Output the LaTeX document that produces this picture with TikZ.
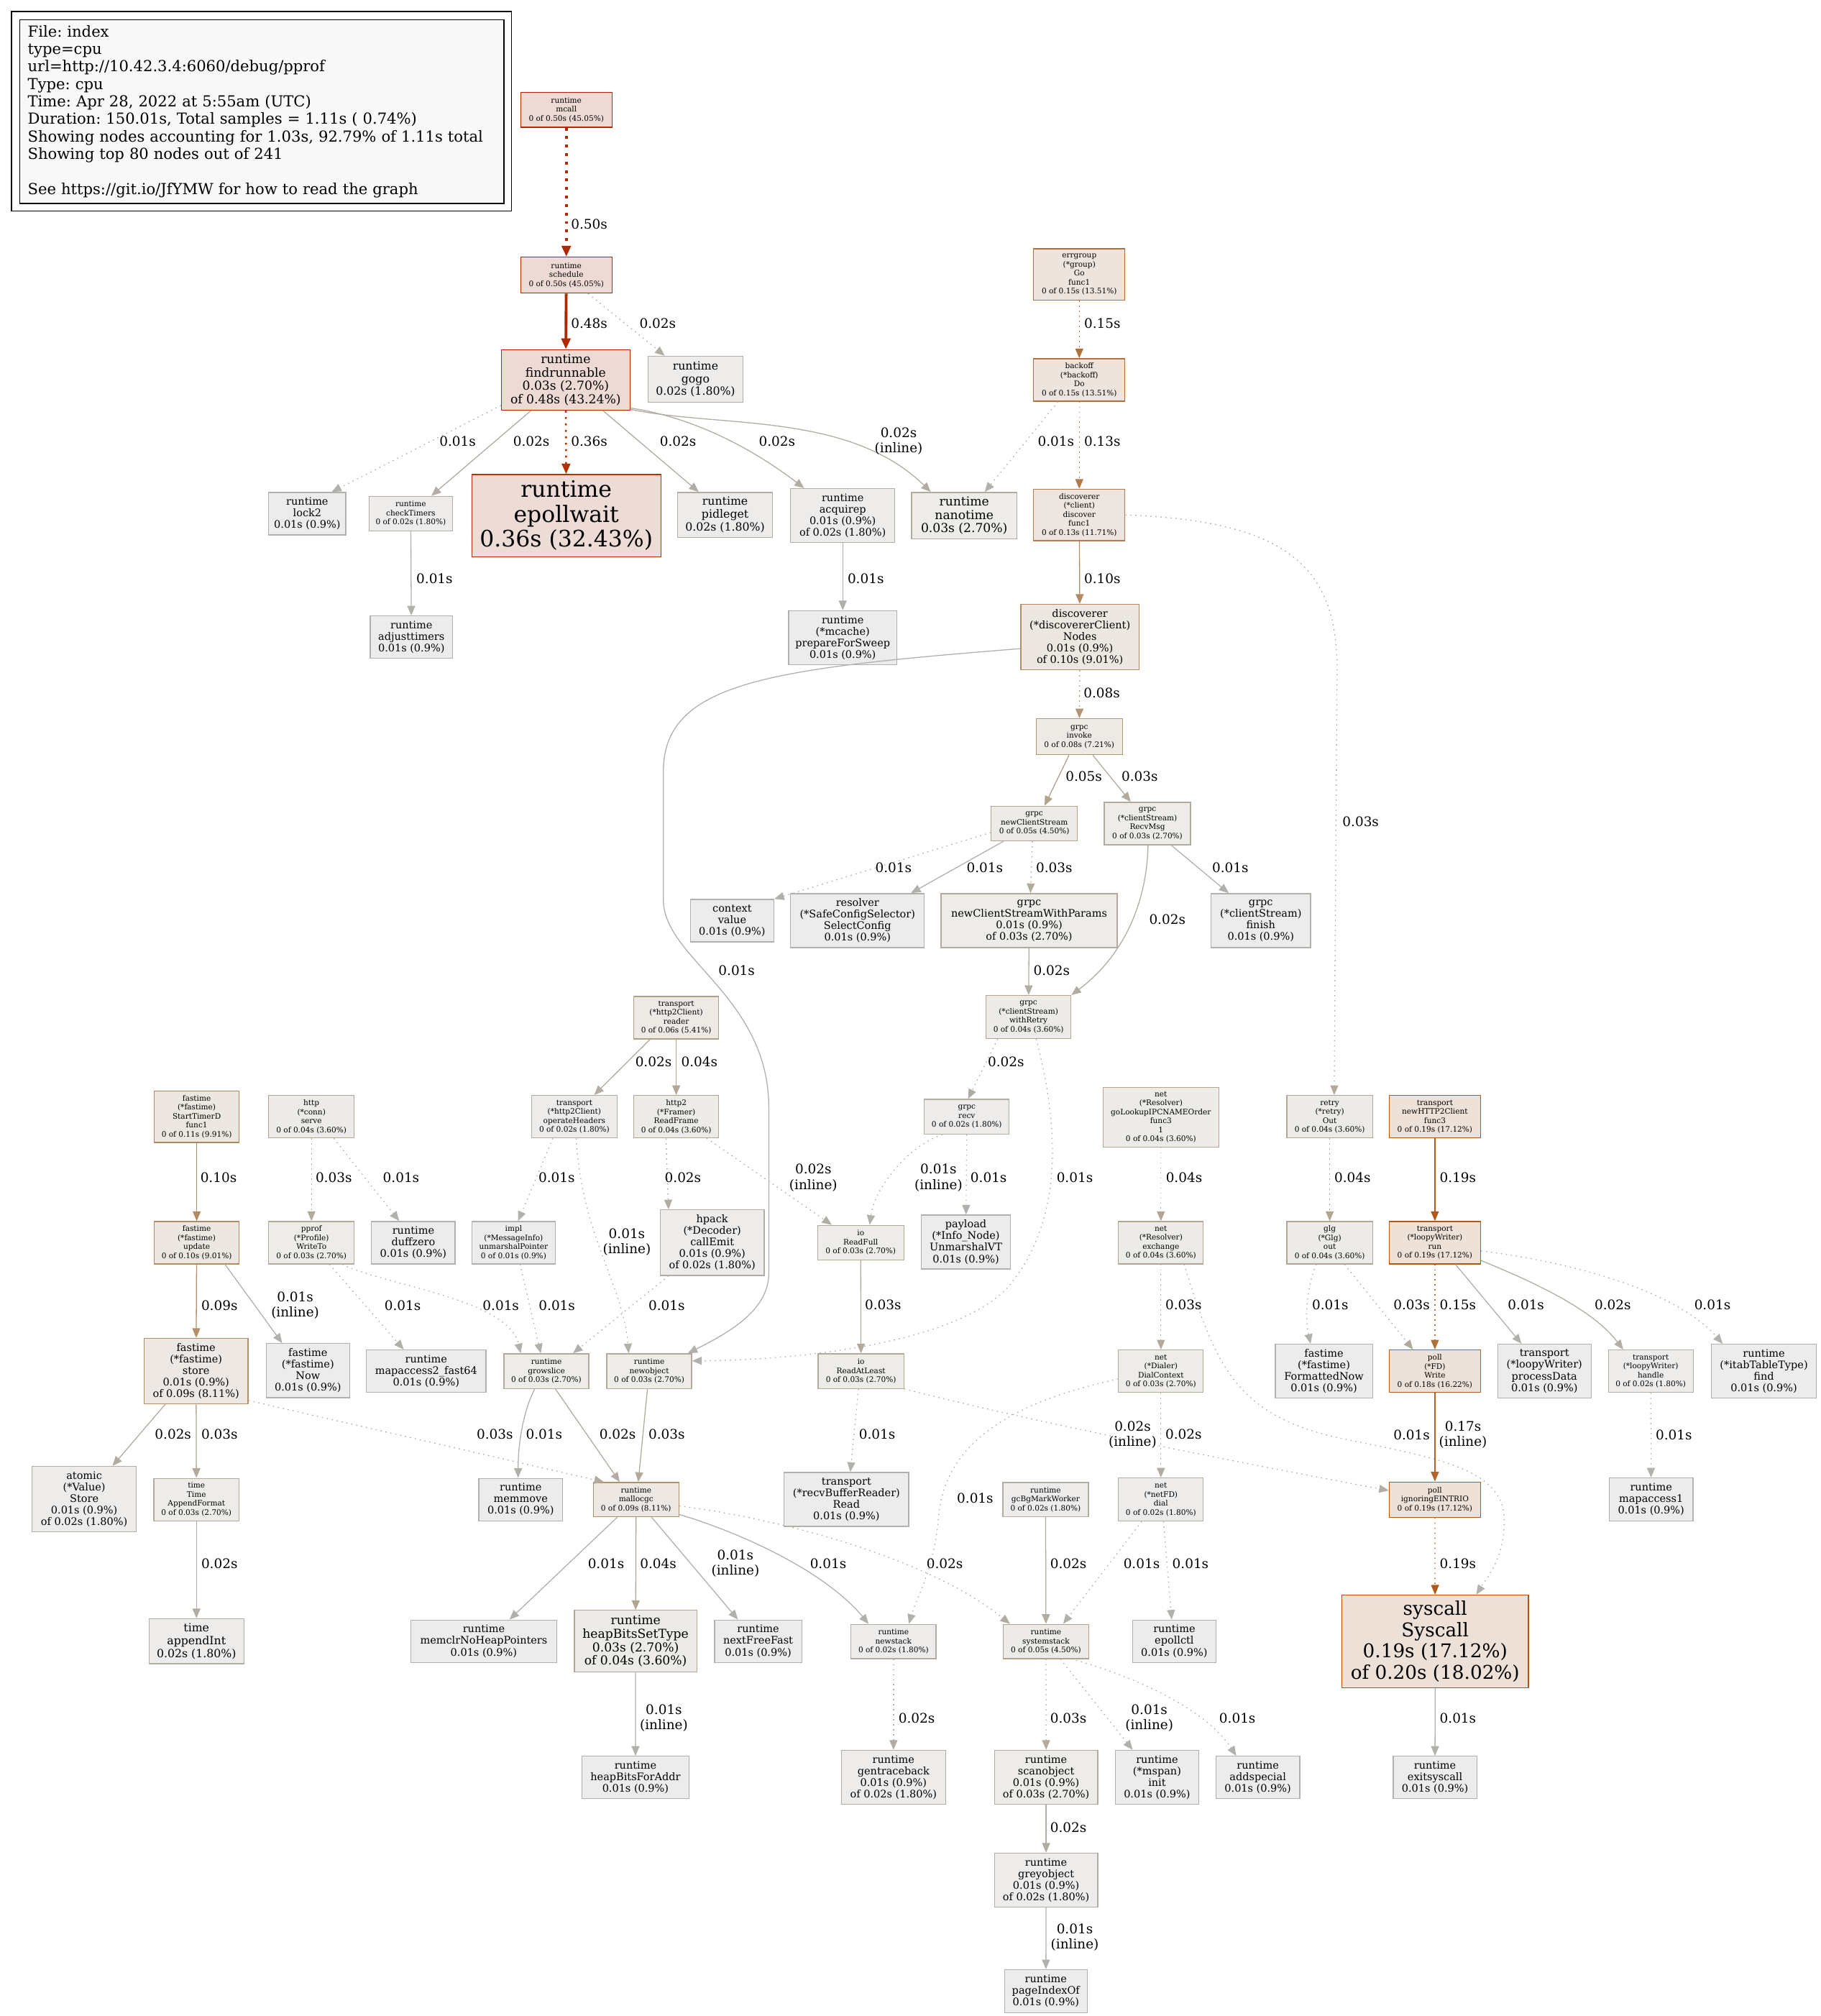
\documentclass[tikz,border=0pt]{standalone}
\usepackage{fontspec}
\setmainfont{DejaVu Serif}
\usetikzlibrary{arrows.meta}
\frenchspacing
% node fills
\definecolor{F01}{HTML}{EDECEC}\definecolor{F02}{HTML}{EDECEB}\definecolor{F03}{HTML}{EDECE9}
\definecolor{F04}{HTML}{EDEBE8}\definecolor{F05}{HTML}{EDEBE7}\definecolor{F06}{HTML}{EDEAE6}
\definecolor{F08}{HTML}{EDE9E4}\definecolor{F09}{HTML}{EDE8E3}\definecolor{F10}{HTML}{EDE7E2}
\definecolor{F11}{HTML}{EDE7E1}\definecolor{F13}{HTML}{EDE5DF}\definecolor{F15}{HTML}{EDE4DD}
\definecolor{F18}{HTML}{EDE2D9}\definecolor{F19}{HTML}{EDE1D8}\definecolor{F20}{HTML}{EDE0D7}
\definecolor{F36}{HTML}{EDDCD5}\definecolor{F48}{HTML}{EDDAD5}\definecolor{F50}{HTML}{EDDAD5}
% borders / edges
\definecolor{B01}{HTML}{B2B0AA}\definecolor{B02}{HTML}{B2ADA2}\definecolor{B03}{HTML}{B2AA9A}
\definecolor{B04}{HTML}{B2A692}\definecolor{B05}{HTML}{B2A28A}\definecolor{B06}{HTML}{B29E82}
\definecolor{B08}{HTML}{B29572}\definecolor{B09}{HTML}{B2906A}\definecolor{B10}{HTML}{B28B62}
\definecolor{B11}{HTML}{B2865A}\definecolor{B13}{HTML}{B27B49}\definecolor{B15}{HTML}{B27039}
\definecolor{B17}{HTML}{B26429}\definecolor{B18}{HTML}{B25E21}\definecolor{B19}{HTML}{B25819}
\definecolor{B20}{HTML}{B25211}\definecolor{B36}{HTML}{B23300}\definecolor{B48}{HTML}{B22700}
\definecolor{B50}{HTML}{B22600}
\definecolor{legendfill}{HTML}{F8F8F8}
\newcommand\fA{\fontsize{5.9pt}{7pt}\selectfont}
\newcommand\fB{\fontsize{8.1pt}{9pt}\selectfont}
\newcommand\fC{\fontsize{8.8pt}{10pt}\selectfont}
\newcommand\fD{\fontsize{9.6pt}{10.4pt}\selectfont}
\newcommand\fE{\fontsize{14.7pt}{16.5pt}\selectfont}
\newcommand\fF{\fontsize{17.6pt}{19.3pt}\selectfont}
\newcommand\fL{\fontsize{10.3pt}{11.8pt}\selectfont}
\newcommand\fG{\fontsize{11.8pt}{13.6pt}\selectfont}
\tikzset{
  box/.style n args={4}{draw=B#1, fill=F#1, rectangle, inner sep=0pt, align=center,
     line width=0.72pt, minimum width=#2pt, minimum height=#3pt, font=#4},
  lab/.style={inner sep=0pt, align=center, font=\fL},
  e/.style={line width=0.72pt, -{Triangle[length=7.5pt,width=6.2pt]}},
  dot/.style={dash pattern=on 0.9pt off 3pt},
}
\begin{document}
\begin{tikzpicture}[x=1pt,y=-1pt]
\useasboundingbox (0,0) rectangle (1416,1568);
\fill[white] (0,0) rectangle (1416,1568);
% legend
\node[draw=black, line width=0.72pt, minimum width=389pt, minimum height=155pt, inner sep=0pt] (cluster) at (203.5,86.5) {};
\node[draw=black, fill=legendfill, line width=0.72pt, minimum width=376.7pt, minimum height=143pt,
      text width=364pt, align=left, inner sep=0pt, font=\fG] (legend) at (203.6,86.75)
 {File: index\\type=cpu\\url=http://10.42.3.4:6060/debug/pprof\\Type: cpu\\Time: Apr 28, 2022 at 5:55am (UTC)\\Duration: 150.01s, Total samples = 1.11s ( 0.74\%)\\Showing nodes accounting for 1.03s, 92.79\% of 1.11s total\\Showing top 80 nodes out of 241\\\mbox{}\\See https://git.io/JfYMW for how to read the graph};
% nodes
\node[box={50}{71}{27}{\fA}] (mcall) at (440.5,85.5) {runtime\\mcall\\0 of 0.50s (45.05\%)};
\node[box={50}{71}{28}{\fA}] (sched) at (440.5,214) {runtime\\schedule\\0 of 0.50s (45.05\%)};
\node[box={48}{100}{47}{\fD}] (findr) at (440,295.5) {runtime\\findrunnable\\0.03s (2.70\%)\\of 0.48s (43.24\%)};
\node[box={02}{74}{36}{\fC}] (gogo) at (541,295) {runtime\\gogo\\0.02s (1.80\%)};
\node[box={01}{60}{33}{\fB}] (lock2) at (239,399.5) {runtime\\lock2\\0.01s (0.9\%)};
\node[box={02}{65}{27}{\fA}] (chkT) at (319.5,399.5) {runtime\\checkTimers\\0 of 0.02s (1.80\%)};
\node[box={36}{147}{64}{\fF}] (epoll) at (440.5,401) {runtime\\epollwait\\0.36s (32.43\%)};
\node[box={02}{74}{35}{\fC}] (pidle) at (564,400.5) {runtime\\pidleget\\0.02s (1.80\%)};
\node[box={02}{81}{42}{\fB}] (acq) at (655.5,401) {runtime\\acquirep\\0.01s (0.9\%)\\of 0.02s (1.80\%)};
\node[box={03}{82}{36}{\fD}] (nano) at (750,401) {runtime\\nanotime\\0.03s (2.70\%)};
\node[box={15}{71}{40}{\fA}] (errg) at (839.5,213.5) {errgroup\\(*group)\\Go\\func1\\0 of 0.15s (13.51\%)};
\node[box={15}{71}{33}{\fA}] (backoff) at (839.5,295.5) {backoff\\(*backoff)\\Do\\0 of 0.15s (13.51\%)};
\node[box={13}{71}{40}{\fA}] (disc) at (839.5,400.5) {discoverer\\(*client)\\discover\\func1\\0 of 0.13s (11.71\%)};
\node[box={01}{64}{33}{\fB}] (adjT) at (320,495.5) {runtime\\adjusttimers\\0.01s (0.9\%)};
\node[box={01}{84}{42}{\fB}] (prep) at (655.5,496) {runtime\\(*mcache)\\prepareForSweep\\0.01s (0.9\%)};
\node[box={10}{92}{51}{\fB}] (nodes) at (840,495.5) {discoverer\\(*discovererClient)\\Nodes\\0.01s (0.9\%)\\of 0.10s (9.01\%)};
\node[box={08}{67}{28}{\fA}] (invoke) at (839.5,573) {grpc\\invoke\\0 of 0.08s (7.21\%)};
\node[box={05}{67}{27}{\fA}] (ncs) at (804.5,640.5) {grpc\\newClientStream\\0 of 0.05s (4.50\%)};
\node[box={03}{67}{33}{\fA}] (recvmsg) at (892.5,640.5) {grpc\\(*clientStream)\\RecvMsg\\0 of 0.03s (2.70\%)};
\node[box={01}{65}{33}{\fB}] (ctx) at (569.5,716) {context\\value\\0.01s (0.9\%)};
\node[box={01}{104}{42}{\fB}] (selcfg) at (667,716) {resolver\\(*SafeConfigSelector)\\SelectConfig\\0.01s (0.9\%)};
\node[box={03}{137}{42}{\fB}] (ncswp) at (800.5,716) {grpc\\newClientStreamWithParams\\0.01s (0.9\%)\\of 0.03s (2.70\%)};
\node[box={01}{77.5}{42}{\fB}] (finish) at (980.7,716) {grpc\\(*clientStream)\\finish\\0.01s (0.9\%)};
\node[box={06}{66}{33}{\fA}] (reader) at (526,791.5) {transport\\(*http2Client)\\reader\\0 of 0.06s (5.41\%)};
\node[box={04}{66}{33.5}{\fA}] (retryw) at (800,791) {grpc\\(*clientStream)\\withRetry\\0 of 0.04s (3.60\%)};
\node[box={11}{66}{40}{\fA}] (stimer) at (153,868.5) {fastime\\(*fastime)\\StartTimerD\\func1\\0 of 0.11s (9.91\%)};
\node[box={04}{66.5}{33}{\fA}] (serve) at (242.25,868.5) {http\\(*conn)\\serve\\0 of 0.04s (3.60\%)};
\node[box={02}{66.5}{33}{\fA}] (opH) at (446.75,868.5) {transport\\(*http2Client)\\operateHeaders\\0 of 0.02s (1.80\%)};
\node[box={04}{66}{33}{\fA}] (rframe) at (526,868.5) {http2\\(*Framer)\\ReadFrame\\0 of 0.04s (3.60\%)};
\node[box={02}{66}{27}{\fA}] (recv) at (752,868.5) {grpc\\recv\\0 of 0.02s (1.80\%)};
\node[box={04}{90}{46.4}{\fA}] (golook) at (903,868.8) {net\\(*Resolver)\\goLookupIPCNAMEOrder\\func3\\1\\0 of 0.04s (3.60\%)};
\node[box={04}{66.6}{33}{\fA}] (retry) at (1034.3,868.5) {retry\\(*retry)\\Out\\0 of 0.04s (3.60\%)};
\node[box={19}{71}{33}{\fA}] (h2c) at (1116.1,868.5) {transport\\newHTTP2Client\\func3\\0 of 0.19s (17.12\%)};
\node[box={10}{66}{33}{\fA}] (update) at (153,966.5) {fastime\\(*fastime)\\update\\0 of 0.10s (9.01\%)};
\node[box={03}{66.5}{33}{\fA}] (writeto) at (242.25,966.5) {pprof\\(*Profile)\\WriteTo\\0 of 0.03s (2.70\%)};
\node[box={01}{65}{33}{\fB}] (duff) at (321.5,966.5) {runtime\\duffzero\\0.01s (0.9\%)};
\node[box={01}{65}{33}{\fA}] (unm) at (399.5,966.5) {impl\\(*MessageInfo)\\unmarshalPointer\\0 of 0.01s (0.9\%)};
\node[box={02}{81}{51}{\fB}] (hpack) at (554,966.5) {hpack\\(*Decoder)\\callEmit\\0.01s (0.9\%)\\of 0.02s (1.80\%)};
\node[box={03}{67}{27}{\fA}] (readfull) at (669.5,966.5) {io\\ReadFull\\0 of 0.03s (2.70\%)};
\node[box={01}{69.4}{42}{\fB}] (payload) at (751.3,966) {payload\\(*Info\_Node)\\UnmarshalVT\\0.01s (0.9\%)};
\node[box={04}{66}{33}{\fA}] (exch) at (903,966.5) {net\\(*Resolver)\\exchange\\0 of 0.04s (3.60\%)};
\node[box={04}{66.6}{33}{\fA}] (glg) at (1034.3,966.5) {glg\\(*Glg)\\out\\0 of 0.04s (3.60\%)};
\node[box={19}{71}{33}{\fA}] (run) at (1116.1,966.5) {transport\\(*loopyWriter)\\run\\0 of 0.19s (17.12\%)};
\node[box={09}{81}{51}{\fB}] (store) at (152.5,1066.4) {fastime\\(*fastime)\\store\\0.01s (0.9\%)\\of 0.09s (8.11\%)};
\node[box={01}{65}{42}{\fB}] (now) at (239.5,1066) {fastime\\(*fastime)\\Now\\0.01s (0.9\%)};
\node[box={01}{93}{33}{\fB}] (mapa2) at (331.5,1066.5) {runtime\\mapaccess2\_fast64\\0.01s (0.9\%)};
\node[box={03}{66}{27}{\fA}] (grow) at (425,1066.4) {runtime\\growslice\\0 of 0.03s (2.70\%)};
\node[box={03}{66}{27}{\fA}] (newobj) at (505,1066.4) {runtime\\newobject\\0 of 0.03s (2.70\%)};
\node[box={03}{66.6}{27}{\fA}] (ral) at (669.7,1066.4) {io\\ReadAtLeast\\0 of 0.03s (2.70\%)};
\node[box={03}{66}{33}{\fA}] (dialctx) at (903,1066.5) {net\\(*Dialer)\\DialContext\\0 of 0.03s (2.70\%)};
\node[box={01}{75.6}{42}{\fB}] (fnow) at (1029.8,1066.5) {fastime\\(*fastime)\\FormattedNow\\0.01s (0.9\%)};
\node[box={18}{71}{33}{\fA}] (fdw) at (1116.1,1066.5) {poll\\(*FD)\\Write\\0 of 0.18s (16.22\%)};
\node[box={01}{72.6}{42}{\fB}] (procd) at (1201.3,1066.5) {transport\\(*loopyWriter)\\processData\\0.01s (0.9\%)};
\node[box={02}{66}{33}{\fA}] (handle) at (1284,1066.5) {transport\\(*loopyWriter)\\handle\\0 of 0.02s (1.80\%)};
\node[box={01}{82}{42}{\fB}] (itab) at (1372,1066.5) {runtime\\(*itabTableType)\\find\\0.01s (0.9\%)};
\node[box={02}{81}{51}{\fB}] (atomic) at (65.5,1166) {atomic\\(*Value)\\Store\\0.01s (0.9\%)\\of 0.02s (1.80\%)};
\node[box={03}{66.4}{33}{\fA}] (appf) at (152.8,1166.3) {time\\Time\\AppendFormat\\0 of 0.03s (2.70\%)};
\node[box={01}{65}{33}{\fB}] (memmove) at (405,1166.3) {runtime\\memmove\\0.01s (0.9\%)};
\node[box={09}{66.5}{26.6}{\fA}] (malloc) at (494.75,1166.3) {runtime\\mallocgc\\0 of 0.09s (8.11\%)};
\node[box={01}{97}{42}{\fB}] (rbr) at (658.4,1166.2) {transport\\(*recvBufferReader)\\Read\\0.01s (0.9\%)};
\node[box={02}{66.6}{26.6}{\fA}] (gcbg) at (813.3,1166.3) {runtime\\gcBgMarkWorker\\0 of 0.02s (1.80\%)};
\node[box={02}{66}{33.5}{\fA}] (dial) at (903,1166.3) {net\\(*netFD)\\dial\\0 of 0.02s (1.80\%)};
\node[box={19}{71}{27.4}{\fA}] (eintr) at (1116.1,1166.3) {poll\\ignoringEINTRIO\\0 of 0.19s (17.12\%)};
\node[box={01}{65.3}{33.5}{\fB}] (mapa1) at (1284.3,1166.3) {runtime\\mapaccess1\\0.01s (0.9\%)};
\node[box={02}{73.7}{35}{\fC}] (appint) at (152.8,1276.5) {time\\appendInt\\0.02s (1.80\%)};
\node[box={01}{113.4}{33}{\fB}] (memclr) at (376.3,1276.5) {runtime\\memclrNoHeapPointers\\0.01s (0.9\%)};
\node[box={04}{95.3}{48}{\fD}] (hbst) at (494.4,1276.5) {runtime\\heapBitsSetType\\0.03s (2.70\%)\\of 0.04s (3.60\%)};
\node[box={01}{67.8}{33}{\fB}] (nff) at (589.7,1276.5) {runtime\\nextFreeFast\\0.01s (0.9\%)};
\node[box={02}{66}{26.7}{\fA}] (newstack) at (695,1276.7) {runtime\\newstack\\0 of 0.02s (1.80\%)};
\node[box={05}{66.3}{26.7}{\fA}] (sysstack) at (813.6,1276.7) {runtime\\systemstack\\0 of 0.05s (4.50\%)};
\node[box={01}{64.8}{33}{\fB}] (epollctl) at (913.4,1276.5) {runtime\\epollctl\\0.01s (0.9\%)};
\node[box={20}{145}{72}{\fE}] (syscall) at (1116.3,1276.6) {syscall\\Syscall\\0.19s (17.12\%)\\of 0.20s (18.02\%)};
\node[box={01}{83.5}{33}{\fB}] (hbfa) at (494.3,1382.5) {runtime\\heapBitsForAddr\\0.01s (0.9\%)};
\node[box={02}{81}{42}{\fB}] (gentr) at (695,1382.3) {runtime\\gentraceback\\0.01s (0.9\%)\\of 0.02s (1.80\%)};
\node[box={03}{80.4}{42}{\fB}] (scan) at (813.7,1382.3) {runtime\\scanobject\\0.01s (0.9\%)\\of 0.03s (2.70\%)};
\node[box={01}{65.2}{42}{\fB}] (mspan) at (900,1382.3) {runtime\\(*mspan)\\init\\0.01s (0.9\%)};
\node[box={01}{65.2}{33}{\fB}] (addsp) at (978.4,1382.5) {runtime\\addspecial\\0.01s (0.9\%)};
\node[box={01}{65}{33}{\fB}] (exitsc) at (1116.2,1382.5) {runtime\\exitsyscall\\0.01s (0.9\%)};
\node[box={02}{80.4}{42}{\fB}] (grey) at (813.7,1462.3) {runtime\\greyobject\\0.01s (0.9\%)\\of 0.02s (1.80\%)};
\node[box={01}{64.3}{33.5}{\fB}] (pidx) at (813.5,1548.7) {runtime\\pageIndexOf\\0.01s (0.9\%)};
% edges
\draw[e, B50, line width=2.16pt, dash pattern=on 2.2pt off 4.4pt, -{Triangle[length=8.5pt,width=7pt]}] (mcall) -- (sched);
\draw[e, B48, line width=2.16pt, -{Triangle[length=8.5pt,width=7pt]}] (sched) -- (findr);
\draw[e, dot, B02] ([xshift=17pt]sched.south) -- ([xshift=-24pt]gogo.north);
\draw[e, dot, B01] ([yshift=4pt]findr.south west) -- ([xshift=19pt]lock2.north);
\draw[e, B02] ([xshift=-27pt]findr.south) -- ([xshift=16pt]chkT.north);
\draw[e, B36, line width=1.44pt, dash pattern=on 1.5pt off 3.5pt, -{Triangle[length=8pt,width=6.6pt]}] (findr) -- (epoll);
\draw[e, B02] ([xshift=29pt]findr.south) -- ([xshift=-20.5pt]pidle.north);
\draw[e, B02] ([yshift=2pt]findr.south east) .. controls (535,324) and (580,345) .. ([xshift=-30pt]acq.north);
\draw[e, B02] ([yshift=1pt]findr.south east) .. controls (560,333) and (660,320) .. ([xshift=-26pt]nano.north);
\draw[e, dot, B15] (errg) -- (backoff);
\draw[e, dot, B01] ([xshift=-16.5pt]backoff.south) -- ([xshift=16pt]nano.north);
\draw[e, dot, B13] (backoff) -- (disc);
\draw[e, B01] (chkT) -- (adjT);
\draw[e, B01] (acq) -- (prep);
\draw[e, B10] (disc) -- (nodes);
\draw[e, dot, B03] (disc.east) .. controls (1000,405) and (1040,440) .. (1040,520) -- ([xshift=3.5pt]retry.north);
\draw[e, B01] ([yshift=-9pt]nodes.west) .. controls (600,520) and (516,530) .. (516,600) -- (516,700) .. controls (516,745) and (597,775) .. (598,860) -- (598,990) .. controls (598,1018) and (570,1035) .. ([xshift=30pt]newobj.north);
\draw[e, dot, B08] (nodes) -- (invoke);
\draw[e, B05] ([xshift=-8pt]invoke.south) -- ([xshift=8pt]ncs.north);
\draw[e, B03] ([xshift=10.5pt]invoke.south) -- ([xshift=-13pt]recvmsg.north);
\draw[e, dot, B01] ([yshift=-7pt]ncs.west) -- (ctx.north east);
\draw[e, B01] ([xshift=-24pt]ncs.south) -- ([xshift=41.6pt]selcfg.north);
\draw[e, dot, B03] ([xshift=-1.5pt]ncs.south) -- ([xshift=1pt]ncswp.north);
\draw[e, B01] ([xshift=18.5pt]recvmsg.south) -- ([xshift=-25pt]finish.north);
\draw[e, B02] ([xshift=0.5pt]recvmsg.south) .. controls (892,705) and (872,745) .. (retryw.north east);
\draw[e, B02] (ncswp) -- (retryw);
\draw[e, B02] ([xshift=-20.3pt]reader.south) -- ([xshift=15.4pt]opH.north);
\draw[e, B04] (reader) -- (rframe);
\draw[e, dot, B02] ([xshift=-24pt]retryw.south) -- ([xshift=1pt]recv.north);
\draw[e, dot, B01] ([xshift=6pt]retryw.south) .. controls (822,870) and (830,945) .. (785,1000) .. controls (745,1045) and (620,1058) .. ([yshift=8pt]newobj.east);
\draw[e, B10] (stimer) -- (update);
\draw[e, dot, B03] (serve) -- (writeto);
\draw[e, dot, B01] ([xshift=17.4pt]serve.south) -- ([xshift=-11pt]duff.north);
\draw[e, dot, B01] ([xshift=-16.7pt]opH.south) -- ([xshift=3.5pt]unm.north);
\draw[e, dot, B01] ([xshift=1.5pt]opH.south) .. controls (452,960) and (485,1000) .. ([xshift=-16pt]newobj.north);
\draw[e, dot, B02] ([xshift=-8pt]rframe.south) -- ([xshift=-34pt]hpack.north);
\draw[e, dot, B02] ([xshift=23.7pt]rframe.south) -- ([xshift=-22.5pt]readfull.north);
\draw[e, dot, B01] ([xshift=-19pt]recv.south) .. controls (705,892) and (680,925) .. ([xshift=7pt]readfull.north);
\draw[e, dot, B01] (recv) -- (payload);
\draw[e, dot, B04] (golook) -- (exch);
\draw[e, dot, B04] (retry) -- (glg);
\draw[e, B19] (h2c) -- (run);
\draw[e, B09] (update) -- (store);
\draw[e, B01] ([xshift=22pt]update.south) -- ([xshift=-20pt]now.north);
\draw[e, dot, B01] ([xshift=14pt]writeto.south) -- ([xshift=-17.5pt]mapa2.north);
\draw[e, dot, B01] ([xshift=24pt]writeto.south) .. controls (300,1000) and (395,1010) .. ([xshift=-20pt]grow.north);
\draw[e, dot, B01] ([xshift=5pt]unm.south) -- ([xshift=-4.4pt]grow.north);
\draw[e, dot, B01] ([xshift=-34pt]hpack.south) -- ([xshift=20.7pt]grow.north);
\draw[e, B03] (readfull) -- (ral);
\draw[e, dot, B03] (exch) -- (dialctx);
\draw[e, dot, B01] ([xshift=18pt]exch.south) .. controls (945,1060) and (960,1100) .. (1040,1118) .. controls (1110,1133) and (1168,1140) .. (1170,1180) .. controls (1171,1210) and (1158,1225) .. ([xshift=32pt]syscall.north);
\draw[e, dot, B01] ([xshift=-2pt]ral.south) -- ([xshift=3pt]rbr.north);
\draw[e, dot, B02] (ral.south east) .. controls (800,1105) and (950,1135) .. ([yshift=7pt]eintr.west);
\draw[e, dot, B01] ([yshift=-6pt]dialctx.west) .. controls (790,1090) and (735,1120) .. (730,1180) .. controls (727,1220) and (712,1245) .. ([xshift=12pt]newstack.north);
\draw[e, dot, B02] (dialctx) -- (dial);
\draw[e, dot, B01] ([xshift=-10.5pt]glg.south) .. controls (1016,1003) and (1015,1025) .. ([xshift=-10.4pt]fnow.north);
\draw[e, dot, B03] ([xshift=11.5pt]glg.south) -- ([xshift=-17pt]fdw.north);
\draw[e, dot, B15] (run) -- (fdw);
\draw[e, B01] ([xshift=16pt]run.south) -- ([xshift=-17.8pt]procd.north);
\draw[e, B02] ([yshift=3pt]run.south east) .. controls (1200,1000) and (1240,1020) .. ([xshift=-21.4pt]handle.north);
\draw[e, dot, B01] ([yshift=-6.5pt]run.east) .. controls (1210,980) and (1300,1000) .. ([xshift=-32pt]itab.north);
\draw[e, B17] (fdw) -- (eintr);
\draw[e, dot, B01] (handle) -- (mapa1);
\draw[e, B02] ([xshift=-24pt]store.south) -- ([xshift=22pt]atomic.north);
\draw[e, B03] (store) -- (appf);
\draw[e, dot, B03] ([yshift=3pt]store.south east) -- ([xshift=-25pt]malloc.north);
\draw[e, B01] ([xshift=-9pt]grow.south) .. controls (408,1095) and (403,1120) .. ([xshift=-2pt]memmove.north);
\draw[e, B02] ([xshift=7pt]grow.south) -- ([xshift=-12.7pt]malloc.north);
\draw[e, B03] ([xshift=-1.4pt]newobj.south) -- ([xshift=1.7pt]malloc.north);
\draw[e, B02] (appf) -- (appint);
\draw[e, B01] ([xshift=-14.5pt]malloc.south) -- ([xshift=20pt]memclr.north);
\draw[e, B04] (malloc) -- (hbst);
\draw[e, B01] ([xshift=12pt]malloc.south) -- ([xshift=-15.7pt]nff.north);
\draw[e, B01] ([yshift=2pt]malloc.south east) .. controls (570,1190) and (640,1220) .. ([xshift=-19.4pt]newstack.north);
\draw[e, dot, B02] ([yshift=-5pt]malloc.east) .. controls (600,1180) and (720,1210) .. ([xshift=-28pt]sysstack.north);
\draw[e, B02] (gcbg) -- (sysstack);
\draw[e, dot, B01] ([xshift=-15pt]dial.south) -- ([xshift=13.4pt]sysstack.north);
\draw[e, dot, B01] ([xshift=2pt]dial.south) -- ([xshift=-2pt]epollctl.north);
\draw[e, dot, B19] (eintr) -- (syscall);
\draw[e, B01] (hbst) -- (hbfa);
\draw[e, dot, B02] (newstack) -- (gentr);
\draw[e, dot, B03] (sysstack) -- (scan);
\draw[e, dot, B01] ([xshift=11.2pt]sysstack.south) -- ([xshift=-19pt]mspan.north);
\draw[e, dot, B01] ([xshift=19.6pt]sysstack.south) .. controls (870,1300) and (935,1325) .. ([xshift=-16.8pt]addsp.north);
\draw[e, B01] (syscall) -- (exitsc);
\draw[e, B02] (scan) -- (grey);
\draw[e, B01] (grey) -- (pidx);
% edge labels
\node[lab] (l1) at (458.3,174.6) {0.50s};
\node[lab] (l2) at (458.3,251.6) {0.48s};
\node[lab] (l3) at (511.6,251.6) {0.02s};
\node[lab] (l4) at (356,343) {0.01s};
\node[lab] (l5) at (413.3,343) {0.02s};
\node[lab] (l6) at (458.3,343) {0.36s};
\node[lab] (l7) at (527.4,343) {0.02s};
\node[lab] (l8) at (604.4,343) {0.02s};
\node[lab] (l9) at (699,343) {0.02s\\(inline)};
\node[lab] (l10) at (857.4,251.6) {0.15s};
\node[lab] (l11) at (821.4,343) {0.01s};
\node[lab] (l12) at (857.4,343) {0.13s};
\node[lab] (l13) at (338,450) {0.01s};
\node[lab] (l14) at (673.4,450) {0.01s};
\node[lab] (l15) at (857.4,450) {0.10s};
\node[lab] (l16) at (1058.4,639) {0.03s};
\node[lab] (l17) at (573,755) {0.01s};
\node[lab] (l18) at (857,539) {0.08s};
\node[lab] (l19) at (843,604) {0.05s};
\node[lab] (l20) at (886.5,604) {0.03s};
\node[lab] (l21) at (695,675) {0.01s};
\node[lab] (l22) at (766,675) {0.01s};
\node[lab] (l23) at (820,675) {0.03s};
\node[lab] (l24) at (957,675) {0.01s};
\node[lab] (l25) at (908,715) {0.02s};
\node[lab] (l26) at (818,755) {0.02s};
\node[lab] (l27) at (508.3,825.7) {0.02s};
\node[lab] (l28) at (544,825.7) {0.04s};
\node[lab] (l29) at (782.5,826) {0.02s};
\node[lab] (l30) at (836,916) {0.01s};
\node[lab] (l31) at (170,916) {0.10s};
\node[lab] (l32) at (259.6,916) {0.03s};
\node[lab] (l33) at (312,916) {0.01s};
\node[lab] (l34) at (433,916) {0.01s};
\node[lab] (l35) at (487.6,966) {0.01s\\(inline)};
\node[lab] (l36) at (531.2,916) {0.02s};
\node[lab] (l37) at (632.6,916) {0.02s\\(inline)};
\node[lab] (l38) at (730,916) {0.01s\\(inline)};
\node[lab] (l39) at (769,916) {0.01s};
\node[lab] (l40) at (921,916) {0.04s};
\node[lab] (l41) at (1052,916) {0.04s};
\node[lab] (l42) at (1134,916) {0.19s};
\node[lab] (l43) at (170.7,1015.3) {0.09s};
\node[lab] (l44) at (229.6,1015.5) {0.01s\\(inline)};
\node[lab] (l45) at (313.2,1015.3) {0.01s};
\node[lab] (l46) at (389.6,1015.3) {0.01s};
\node[lab] (l47) at (433.2,1015.3) {0.01s};
\node[lab] (l48) at (518.6,1015.3) {0.01s};
\node[lab] (l49) at (686.9,1015) {0.03s};
\node[lab] (l50) at (920.6,1015) {0.03s};
\node[lab] (l51) at (1034.7,1015) {0.01s};
\node[lab] (l52) at (1098,1015) {0.03s};
\node[lab] (l53) at (1134,1015) {0.15s};
\node[lab] (l54) at (1187,1015) {0.01s};
\node[lab] (l55) at (1254.5,1015) {0.02s};
\node[lab] (l56) at (1332,1015) {0.01s};
\node[lab] (l57) at (682.3,1115.7) {0.01s};
\node[lab] (l58) at (881,1116) {0.02s\\(inline)};
\node[lab] (l59) at (758.5,1165.4) {0.01s};
\node[lab] (l60) at (920.6,1115.7) {0.02s};
\node[lab] (l61) at (1098,1116) {0.01s};
\node[lab] (l62) at (1138,1116) {0.17s\\(inline)};
\node[lab] (l63) at (1302,1116) {0.01s};
\node[lab] (l64) at (134.6,1115.7) {0.02s};
\node[lab] (l65) at (170.7,1115.7) {0.03s};
\node[lab] (l66) at (384.9,1115.7) {0.03s};
\node[lab] (l67) at (423.2,1115.7) {0.01s};
\node[lab] (l68) at (480.4,1115.7) {0.02s};
\node[lab] (l69) at (518.6,1115.7) {0.03s};
\node[lab] (l70) at (170.7,1216) {0.02s};
\node[lab] (l71) at (471.4,1216) {0.01s};
\node[lab] (l72) at (512,1216) {0.04s};
\node[lab] (l73) at (572,1216) {0.01s\\(inline)};
\node[lab] (l74) at (644.2,1216) {0.01s};
\node[lab] (l75) at (734.8,1216) {0.02s};
\node[lab] (l76) at (831,1216) {0.02s};
\node[lab] (l77) at (888,1216) {0.01s};
\node[lab] (l78) at (926,1216) {0.01s};
\node[lab] (l79) at (1134,1216) {0.19s};
\node[lab] (l80) at (516.4,1336.5) {0.01s\\(inline)};
\node[lab] (l81) at (713,1336.5) {0.02s};
\node[lab] (l82) at (831,1336.5) {0.03s};
\node[lab] (l83) at (894,1336.5) {0.01s\\(inline)};
\node[lab] (l84) at (962.5,1336.5) {0.01s};
\node[lab] (l85) at (1134,1336.5) {0.01s};
\node[lab] (l86) at (831,1421.5) {0.02s};
\node[lab] (l87) at (836,1507) {0.01s\\(inline)};
\end{tikzpicture}
\end{document}
